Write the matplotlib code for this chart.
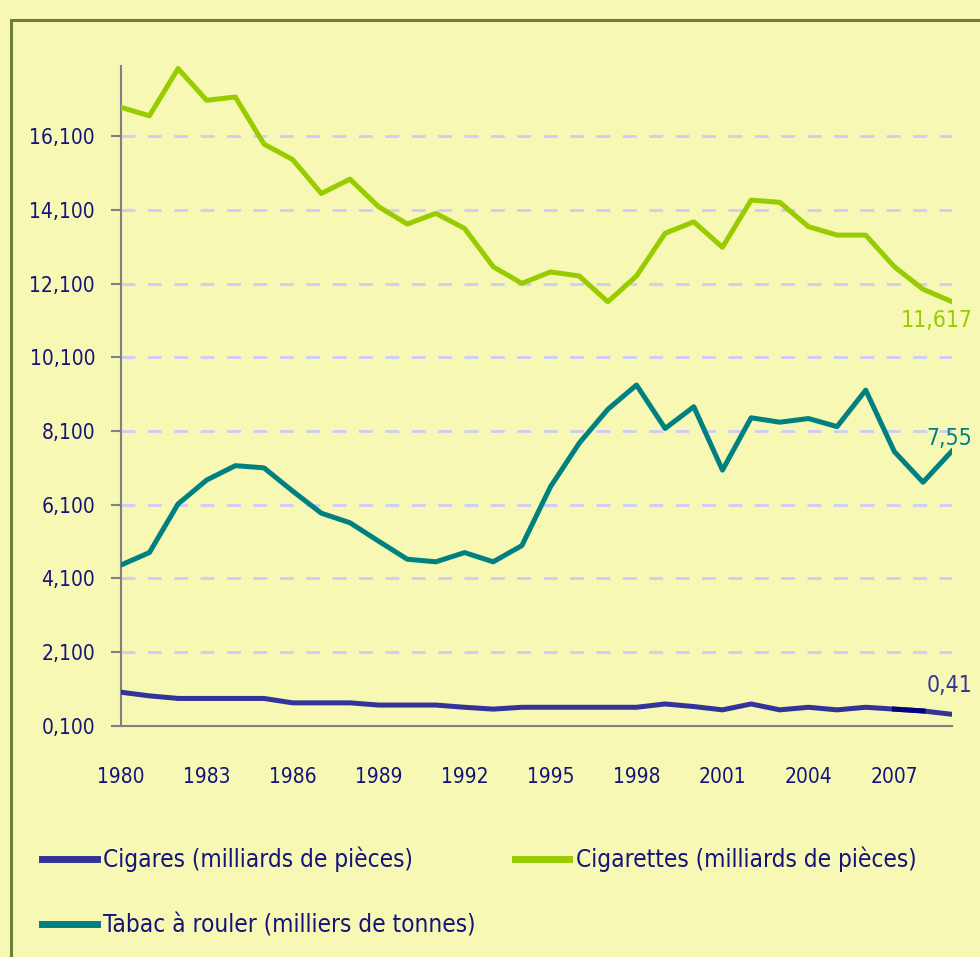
import matplotlib
matplotlib.use("Agg")
import matplotlib.pyplot as plt
from matplotlib.patches import Rectangle
from matplotlib.ticker import FuncFormatter

plt.rcParams['font.family'] = ['DejaVu Sans']
plt.rcParams['font.stretch'] = 'condensed'

# data
years = list(range(1980, 2010))
cigarettes = [16.89, 16.66, 17.94, 17.08, 17.17, 15.89, 15.47, 14.55, 14.94, 14.19,
              13.72, 14.01, 13.60, 12.56, 12.11, 12.42, 12.31, 11.61, 12.31, 13.47,
              13.78, 13.09, 14.37, 14.31, 13.65, 13.42, 13.42, 12.56, 11.95, 11.617]
tabac = [4.46, 4.80, 6.12, 6.77, 7.16, 7.10, 6.47, 5.87, 5.61, 5.11,
         4.62, 4.55, 4.80, 4.55, 4.99, 6.59, 7.77, 8.69, 9.35, 8.17,
         8.76, 7.04, 8.46, 8.34, 8.44, 8.22, 9.21, 7.54, 6.71, 7.55]
cigares = [1.01, 0.91, 0.84, 0.84, 0.84, 0.84, 0.72, 0.72, 0.72, 0.66,
           0.66, 0.66, 0.60, 0.55, 0.60, 0.60, 0.60, 0.60, 0.60, 0.69,
           0.62, 0.53, 0.69, 0.53, 0.60, 0.53, 0.60, 0.55, 0.50, 0.41]
labels = ["Cigares (milliards de pièces)", "Cigarettes (milliards de pièces)",
          "Tabac à rouler (milliers de tonnes)"]
yticks = [0.1, 2.1, 4.1, 6.1, 8.1, 10.1, 12.1, 14.1, 16.1]
xticks = list(range(1980, 2010, 3))

bg = "#f6f8b4"
txt = "#14147a"
c_cigares = "#333399"
c_cigarettes = "#99cc00"
c_tabac = "#008080"

fig = plt.figure(figsize=(9.8, 9.57), dpi=100, facecolor=bg)
ax = fig.add_axes([0.1232, 0.2417, 0.8479, 0.6889])
ax.set_facecolor(bg)

# outer frame
fig.patches.append(Rectangle((0.0112, -0.1), 1.2, 1.0896 - 0.0105, fill=False,
                             edgecolor="#6f7d3c", lw=2.2, transform=fig.transFigure))

for y in yticks[1:]:
    ax.axhline(y, color="#ccccff", lw=2, dashes=(5, 4.5), zorder=1)

l1, = ax.plot(years, cigares, color=c_cigares, lw=3.6, zorder=3)
l2, = ax.plot(years, cigarettes, color=c_cigarettes, lw=3.6, zorder=3)
l3, = ax.plot(years, tabac, color=c_tabac, lw=3.6, zorder=3)
ax.plot(years[27:29], cigares[27:29], color="#000080", lw=3.6, zorder=4)

ax.set_xlim(1980, 2009)
ax.set_ylim(0.1, 18.0)
ax.set_yticks(yticks)
ax.yaxis.set_major_formatter(FuncFormatter(lambda v, p: f"{v:.3f}".replace(".", ",")))
ax.set_xticks(xticks)
ax.tick_params(axis="y", length=7.5, width=1.5, color="#808080", labelsize=15,
               labelcolor=txt, pad=11)
ax.tick_params(axis="x", length=0, labelsize=15, labelcolor=txt, pad=30)
for s in ["top", "right"]:
    ax.spines[s].set_visible(False)
for s in ["left", "bottom"]:
    ax.spines[s].set_color("#808080")
    ax.spines[s].set_linewidth(1.5)

# end labels
ax.annotate("11,617", (years[-1], cigarettes[-1]), xytext=(15, -13.5), textcoords="offset points",
            ha="right", va="center", color=c_cigarettes, fontsize=16.5, annotation_clip=False)
ax.annotate("7,55", (years[-1], tabac[-1]), xytext=(15, 9.5), textcoords="offset points",
            ha="right", va="center", color=c_tabac, fontsize=16.5, annotation_clip=False)
ax.annotate("0,41", (years[-1], cigares[-1]), xytext=(15, 21), textcoords="offset points",
            ha="right", va="center", color=c_cigares, fontsize=16.5, annotation_clip=False)

leg = fig.legend([l1, l3, l2], [labels[0], labels[2], labels[1]], ncol=2,
                 loc="upper left", bbox_to_anchor=(0.0429, 0.115), frameon=False,
                 fontsize=17.5, handlelength=2.26, handletextpad=0.25, columnspacing=1.6,
                 labelspacing=1.7, borderaxespad=0, borderpad=0)
for t in leg.get_texts():
    t.set_color(txt)
for h in leg.get_lines():
    h.set_linewidth(5)

fig.savefig("out.png", dpi=100, facecolor=bg)
